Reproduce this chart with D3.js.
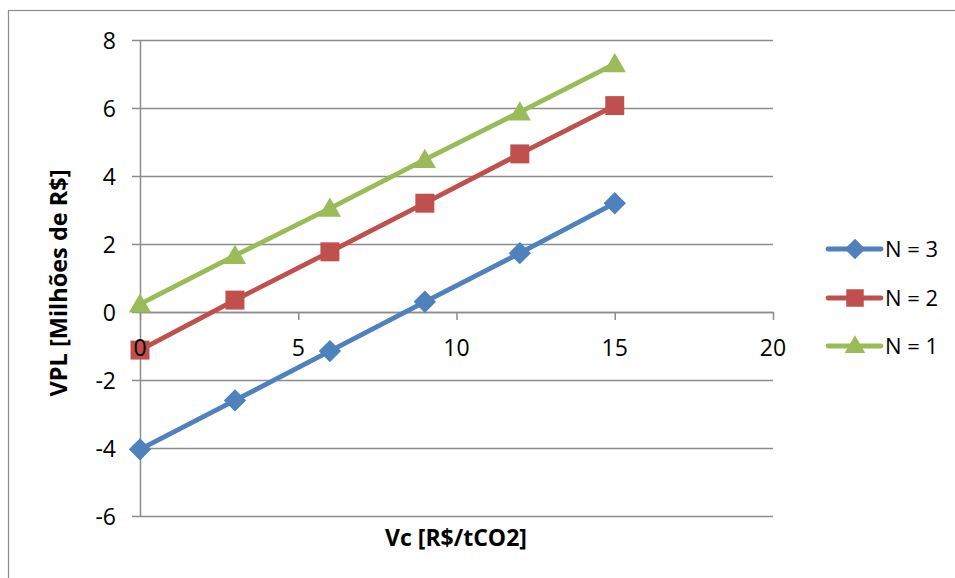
<!DOCTYPE html>
<html>
<head>
<meta charset="utf-8">
<script src="https://cdn.jsdelivr.net/npm/d3@7"></script>
<style>
  html, body { margin: 0; padding: 0; background: #fff; }
  svg text { font-family: "Open Sans", "Noto Sans", sans-serif; fill: #000; }
</style>
</head>
<body>
<svg id="chart" width="955" height="578"></svg>
<script>
// Carbon credit price (R$/tCO2) against net present value (millions of R$)
const vcValues = [0, 3, 6, 9, 12, 15];
const seriesNames = ["N = 3", "N = 2", "N = 1"];
const vplN3 = [-4.04, -2.60, -1.15, 0.30, 1.73, 3.20];
const vplN2 = [-1.12, 0.35, 1.77, 3.20, 4.65, 6.07];
const vplN1 = [0.23, 1.66, 3.05, 4.48, 5.88, 7.30];
const xTicks = [0, 5, 10, 15, 20];
const yTicks = [-6, -4, -2, 0, 2, 4, 6, 8];
const seriesColors = ["#4F81BD", "#C0504D", "#9BBB59"];
const seriesMarkers = ["diamond", "square", "triangle"];

const series = [vplN3, vplN2, vplN1].map((vals, i) => ({
  name: seriesNames[i],
  color: seriesColors[i],
  marker: seriesMarkers[i],
  points: vals.map((v, j) => ({ x: vcValues[j], y: v }))
}));

// marker shape: diamond is a square turned 45 degrees
function markerPath(kind, scale) {
  if (kind === "diamond") return d3.symbol().type(d3.symbolSquare).size(250 * scale)();
  if (kind === "square") return d3.symbol().type(d3.symbolSquare).size(360 * scale)();
  return d3.symbol().type(d3.symbolTriangle).size(215 * scale)();
}
function markerTransform(kind, cx, cy) {
  if (kind === "diamond") return `translate(${cx},${cy}) rotate(45)`;
  if (kind === "triangle") return `translate(${cx},${cy + 2})`;
  return `translate(${cx},${cy})`;
}

const svg = d3.select("#chart");
const plot = { left: 140, right: 773, top: 40, bottom: 516 };

const x = d3.scaleLinear().domain([0, 20]).range([plot.left, plot.right]);
const y = d3.scaleLinear().domain([-6, 8]).range([plot.bottom, plot.top]);

// outer chart frame
svg.append("rect")
  .attr("x", 8.5).attr("y", 10.5)
  .attr("width", 960).attr("height", 600)
  .attr("fill", "none").attr("stroke", "#8c8c8c").attr("stroke-width", 1.2);

const gridColor = "#8c8c8c";

// horizontal gridlines with left tick marks
const yAxis = d3.axisLeft(y).tickValues(yTicks)
  .tickSize(8).tickSizeOuter(0).tickFormat(d => d);
const yG = svg.append("g")
  .attr("transform", `translate(${plot.left},0)`)
  .call(yAxis);
yG.select(".domain").attr("stroke", gridColor).attr("stroke-width", 1.5);
yG.selectAll(".tick line").attr("stroke", gridColor).attr("stroke-width", 1.5);
yG.selectAll(".tick text")
  .attr("x", -24).attr("dy", "0.36em")
  .style("font-size", "23px");
yG.selectAll(".tick").append("line")
  .attr("x1", 0).attr("x2", plot.right - plot.left)
  .attr("stroke", gridColor).attr("stroke-width", 1.5);

// horizontal axis crossing at zero
const xAxis = d3.axisBottom(x).tickValues(xTicks)
  .tickSize(8).tickSizeOuter(0).tickFormat(d => d);
const xG = svg.append("g")
  .attr("transform", `translate(0,${y(0)})`)
  .call(xAxis);
xG.select(".domain").attr("stroke", gridColor).attr("stroke-width", 1.5);
xG.selectAll(".tick line").attr("stroke", gridColor).attr("stroke-width", 1.5);
xG.selectAll(".tick text").remove();

// series lines and markers
const line = d3.line().x(d => x(d.x)).y(d => y(d.y));
series.forEach(s => {
  const g = svg.append("g");
  g.append("path")
    .datum(s.points)
    .attr("d", line)
    .attr("fill", "none")
    .attr("stroke", s.color)
    .attr("stroke-width", 4.8)
    .attr("stroke-linejoin", "round")
    .attr("stroke-linecap", "round");
  g.selectAll("path.m")
    .data(s.points)
    .join("path")
    .attr("class", "m")
    .attr("transform", d => markerTransform(s.marker, x(d.x), y(d.y)))
    .attr("d", markerPath(s.marker, 1))
    .attr("fill", s.color);
});

// x tick labels drawn above the series
svg.append("g").selectAll("text")
  .data(xTicks)
  .join("text")
  .attr("x", d => x(d))
  .attr("y", y(0) + 44)
  .attr("text-anchor", "middle")
  .style("font-size", "23px")
  .text(d => d);

// axis titles
svg.append("text")
  .attr("x", 456).attr("y", 546)
  .attr("text-anchor", "middle")
  .style("font-size", "23px").style("font-weight", "bold")
  .text("Vc [R$/tCO2]");

svg.append("text")
  .attr("transform", "translate(67,283) rotate(-90)")
  .attr("text-anchor", "middle")
  .style("font-size", "23.5px").style("font-weight", "bold")
  .text("VPL [Milhões de R$]");

// legend
const legendRows = [249, 298, 346];
series.forEach((s, i) => {
  const g = svg.append("g").attr("transform", `translate(0,${legendRows[i]})`);
  g.append("line")
    .attr("x1", 828).attr("x2", 881)
    .attr("stroke", s.color).attr("stroke-width", 4.8)
    .attr("stroke-linecap", "round");
  g.append("path")
    .attr("transform", markerTransform(s.marker, 855, s.marker === "triangle" ? -1 : 0))
    .attr("d", markerPath(s.marker, 0.85))
    .attr("fill", s.color);
  g.append("text")
    .attr("x", 885).attr("y", 0).attr("dy", "0.36em")
    .style("font-size", "22px")
    .text(s.name);
});
</script>
</body>
</html>
